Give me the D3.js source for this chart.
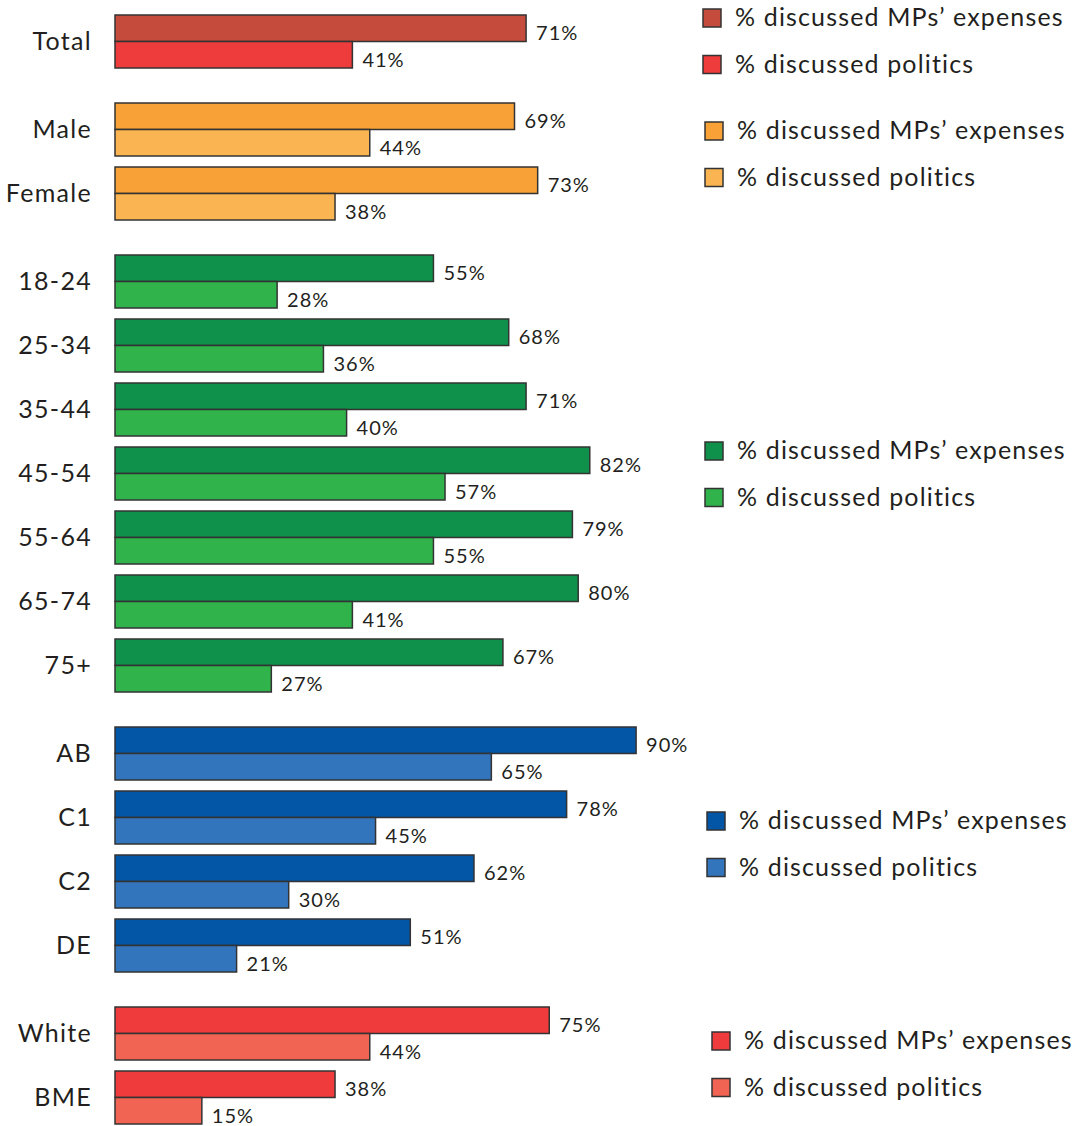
<!DOCTYPE html>
<html>
<head>
<meta charset="utf-8">
<script src="https://cdn.jsdelivr.net/npm/d3@7"></script>
<style>
  body { margin: 0; background: #fff; }
  text { font-family: Lato, "Open Sans", sans-serif; fill: #231f20; }
</style>
</head>
<body>
<svg id="chart"></svg>
<script>
// data
var groups     = ["Total", "Gender", "Age", "Class", "Ethnicity"];
var categories = ["Total", "Male", "Female", "18-24", "25-34", "35-44", "45-54", "55-64", "65-74", "75+", "AB", "C1", "C2", "DE", "White", "BME"];
var groupOf    = [0, 1, 1, 2, 2, 2, 2, 2, 2, 2, 3, 3, 3, 3, 4, 4];
var expenses   = [71, 69, 73, 55, 68, 71, 82, 79, 80, 67, 90, 78, 62, 51, 75, 38];
var politics   = [41, 44, 38, 28, 36, 40, 57, 55, 41, 27, 65, 45, 30, 21, 44, 15];
var seriesNames = ["% discussed MPs\u2019 expenses", "% discussed politics"];

// colours per group: [expenses, politics]
var colorArr = [
  ["#c54c3c", "#ee3b3b"],
  ["#f7a137", "#fab552"],
  ["#0f914b", "#31b34c"],
  ["#0356a6", "#3375bd"],
  ["#ef3b3c", "#f16454"]
];

var svgWidth = 1086, svgHeight = 1126;
var rowPitch = 64, groupGap = 24, pairHeight = 53;
var legendX = [703, 705, 705, 707, 712];
var legendY = [17, 130, 450, 820, 1040];

var svg = d3.select("#chart")
  .attr("width", svgWidth)
  .attr("height", svgHeight);

var x = d3.scaleLinear().domain([0, 100]).range([115, 694]);
// slot units: one row = 1, group gap expressed in row units
var y = d3.scaleLinear().domain([0, 1]).range([15, 15 + rowPitch]);
var inner = d3.scaleBand().domain([0, 1]).range([0, pairHeight]);

var rows = categories.map(function(c, i) {
  return { name: c, g: groupOf[i], vals: [expenses[i], politics[i]], top: y(i + groupOf[i] * groupGap / rowPitch) };
});

var row = svg.selectAll("g.row")
  .data(rows)
  .enter()
  .append("g")
  .attr("class", "row")
  .attr("transform", function(d) { return "translate(0," + d.top + ")"; });

row.append("text")
  .attr("x", 92)
  .attr("y", pairHeight / 2 - 1)
  .attr("dy", "0.36em")
  .attr("text-anchor", "end")
  .attr("font-size", "25px")
  .attr("letter-spacing", "1.3px")
  .text(function(d) { return d.name; });

var bar = row.selectAll("g.bar")
  .data(function(d) { return d.vals.map(function(v, k) { return { v: v, k: k, g: d.g }; }); })
  .enter()
  .append("g")
  .attr("class", "bar");

bar.append("rect")
  .attr("x", x(0))
  .attr("y", function(d) { return inner(d.k); })
  .attr("width", function(d) { return x(d.v) - x(0); })
  .attr("height", inner.bandwidth())
  .attr("fill", function(d) { return colorArr[d.g][d.k]; })
  .attr("stroke", "#333")
  .attr("stroke-width", 1.5);

bar.append("text")
  .attr("x", function(d) { return x(d.v) + 10; })
  .attr("y", function(d) { return inner(d.k) + inner.bandwidth() / 2 + 5; })
  .attr("dy", "0.36em")
  .attr("font-size", "20px")
  .attr("letter-spacing", "1px")
  .text(function(d) { return d.v + "%"; });

// legends
var legend = svg.selectAll("g.legend")
  .data(groups)
  .enter()
  .append("g")
  .attr("class", "legend")
  .attr("transform", function(d, i) { return "translate(" + legendX[i] + "," + legendY[i] + ")"; });

legend.each(function(d, gi) {
  var item = d3.select(this).selectAll("g")
    .data(seriesNames)
    .enter()
    .append("g")
    .attr("transform", function(s, k) { return "translate(0," + (k * 46.5) + ")"; });
  item.append("rect")
    .attr("x", 0)
    .attr("y", -8)
    .attr("width", 18)
    .attr("height", 18)
    .attr("fill", function(s, k) { return colorArr[gi][k]; })
    .attr("stroke", "#333")
    .attr("stroke-width", 1.5);
  item.append("text")
    .attr("x", 32)
    .attr("y", 0)
    .attr("dy", "0.36em")
    .attr("font-size", "25px")
    .attr("letter-spacing", "1.15px")
    .text(function(s) { return s; });
});
</script>
</body>
</html>
